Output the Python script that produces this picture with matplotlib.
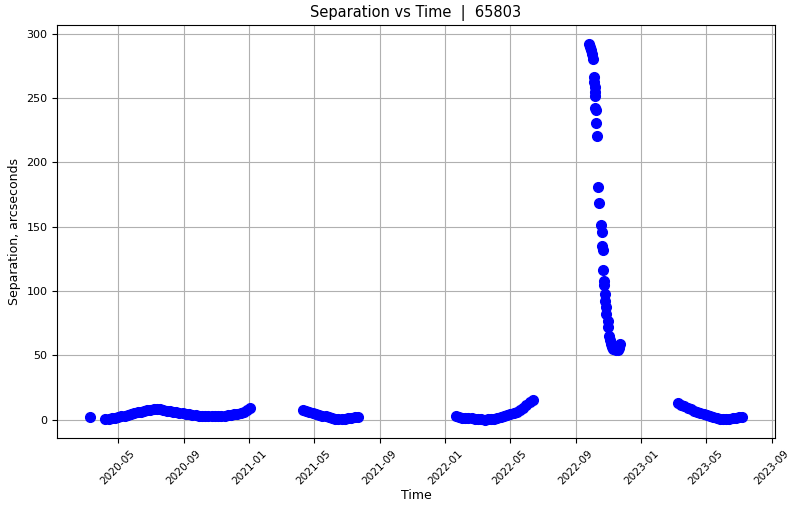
import matplotlib
matplotlib.use('Agg')
import matplotlib.pyplot as plt
import matplotlib.dates as mdates
import numpy as np
import pandas as pd

target_id = 65803
cadence = '6D'

# lone early measurement
early_dates = ['2020-03-10']
early_sep = [2.2]

# 2020 season, one sample every 6 days from the start date
s2020_start = '2020-04-08'
s2020_sep = [0.4, 0.7, 1.1, 1.6, 2.1, 2.6, 3.2, 3.8, 4.4, 5.0,
             5.6, 6.2, 6.7, 7.2, 7.6, 8.0, 8.3, 8.0, 7.6, 7.1,
             6.6, 6.1, 5.7, 5.3, 4.9, 4.5, 4.1, 3.7, 3.4, 3.1,
             2.9, 2.7, 2.6, 2.6, 2.6, 2.7, 2.9, 3.1, 3.4, 3.7,
             4.1, 4.6, 5.3, 6.1, 7.3, 9.2]

# 2021 season
s2021_start = '2021-04-11'
s2021_sep = [7.8, 6.9, 6.0, 5.2, 4.5, 3.8, 3.1, 2.5, 1.9, 1.3,
             0.8, 0.5, 0.6, 0.9, 1.3, 1.6, 1.9, 2.0]

# 2022 season
s2022_start = '2022-01-20'
s2022_sep = [2.5, 2.0, 1.7, 1.5, 1.3, 1.0, 0.7, 0.4, 0.2, 0.1,
             0.2, 0.5, 0.9, 1.4, 2.0, 2.7, 3.4, 4.2, 5.1, 6.1,
             7.6, 9.3, 11.2, 13.4, 15.3]

# close approach in autumn 2022
spike_dates = ['2022-09-26', '2022-09-28', '2022-09-30', '2022-10-02', '2022-10-03',
               '2022-10-04', '2022-10-05', '2022-10-06', '2022-10-06', '2022-10-07',
               '2022-10-07', '2022-10-08', '2022-10-09', '2022-10-10', '2022-10-13',
               '2022-10-14', '2022-10-18', '2022-10-19', '2022-10-20', '2022-10-21',
               '2022-10-22', '2022-10-23', '2022-10-24', '2022-10-25', '2022-10-26',
               '2022-10-27', '2022-10-28', '2022-10-30', '2022-10-31', '2022-11-01',
               '2022-11-03', '2022-11-05', '2022-11-08', '2022-11-10', '2022-11-14',
               '2022-11-18', '2022-11-21', '2022-11-23']
spike_sep = [292.1, 290.0, 287.5, 284.0, 280.5, 266.7, 262.2, 258.4, 254.5, 252.0,
             242.5, 240.8, 230.4, 220.6, 181.0, 168.6, 151.5, 145.6, 135.2, 131.9,
             116.3, 108.0, 104.9, 97.7, 92.5, 87.3, 82.1, 76.9, 71.7, 65.3,
             62.0, 59.0, 56.5, 55.0, 54.0, 54.5, 56.0, 58.5]

# 2023 season
s2023_start = '2023-03-10'
s2023_sep = [12.8, 11.6, 10.4, 9.3, 8.2, 7.1, 6.1, 5.1, 4.2, 3.3,
             2.5, 1.8, 1.2, 0.7, 0.5, 0.6, 0.9, 1.3, 1.7, 2.1, 2.3]


def season(start, sep):
    return pd.date_range(start, periods=len(sep), freq=cadence)


times = np.concatenate([
    pd.to_datetime(early_dates).values,
    season(s2020_start, s2020_sep).values,
    season(s2021_start, s2021_sep).values,
    season(s2022_start, s2022_sep).values,
    pd.to_datetime(spike_dates).values,
    season(s2023_start, s2023_sep).values,
])
sep = np.concatenate([early_sep, s2020_sep, s2021_sep, s2022_sep, spike_sep, s2023_sep])

plt.rcParams['font.size'] = 9
plt.rcParams['xtick.labelsize'] = 7.6
plt.rcParams['ytick.labelsize'] = 8
plt.rcParams['axes.titlesize'] = 10.5

fig = plt.figure(figsize=(7.94, 5.05), dpi=100)
ax = fig.add_subplot(111)
fig.subplots_adjust(left=0.072, right=0.976, top=0.950, bottom=0.132)

ax.plot(times, sep, 'o', color='blue', markersize=7)

ax.xaxis.set_major_locator(mdates.MonthLocator(bymonth=(1, 5, 9)))
ax.xaxis.set_major_formatter(mdates.DateFormatter('%Y-%m'))
plt.setp(ax.get_xticklabels(), rotation=45)

ax.set_title('Separation vs Time  |  %d' % target_id)
ax.set_xlabel('Time', labelpad=2)
ax.set_ylabel('Separation, arcseconds')
ax.grid(True)

fig.savefig('out.png', dpi=100)
